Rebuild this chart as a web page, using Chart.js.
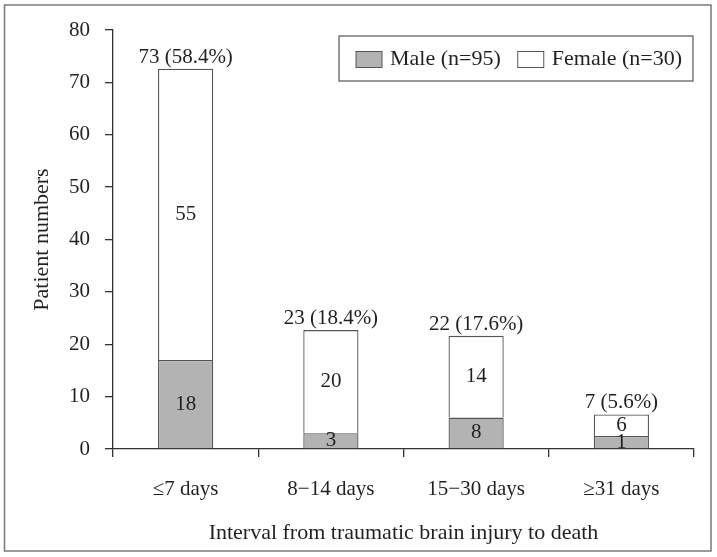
<!DOCTYPE html>
<html>
<head>
<meta charset="utf-8">
<script src="https://cdn.jsdelivr.net/npm/chart.js@4"></script>
<style>
  html, body { margin: 0; padding: 0; background: #fff; }
  #wrap { width: 717px; height: 557px; }
</style>
</head>
<body>
<div id="wrap"><canvas id="totalchart" width="717" height="557"></canvas></div>
<script>
'use strict';
// categories and values
var categories = ['\u22647 days', '8\u221214 days', '15\u221230 days', '\u226531 days'];
// drawn heights of the segments
var maleValues = [17, 3, 6, 2.5];
var femaleValues = [55.6, 19.7, 15.6, 4.1];
// numbers printed on the segments
var maleText = ['18', '3', '8', '1'];
var femaleText = ['55', '20', '14', '6'];
var totalText = ['73 (58.4%)', '23 (18.4%)', '22 (17.6%)', '7 (5.6%)'];
var yTicks = [0, 10, 20, 30, 40, 50, 60, 70, 80];

var FONT = '"Liberation Serif", "Times New Roman", serif';
var INK = '#231f20';

var frame = {
  id: 'frame',
  beforeDraw: function (chart) {
    var c = chart.ctx;
    c.save();
    c.fillStyle = '#fff';
    c.fillRect(0, 0, chart.width, chart.height);
    c.strokeStyle = '#7a7a7a';
    c.lineWidth = 1.5;
    c.strokeRect(4.5, 5, 706.5, 546);
    c.restore();
  }
};

var barText = {
  id: 'barText',
  afterDatasetsDraw: function (chart) {
    var c = chart.ctx;
    var male = chart.getDatasetMeta(0).data;
    var female = chart.getDatasetMeta(1).data;
    c.save();
    c.fillStyle = INK;
    c.font = '21px ' + FONT;
    c.textAlign = 'center';
    c.textBaseline = 'middle';
    male.forEach(function (bar, i) {
      c.fillText(maleText[i], bar.x, (bar.y + bar.base) / 2);
    });
    female.forEach(function (bar, i) {
      c.fillText(femaleText[i], bar.x, (bar.y + bar.base) / 2);
    });
    c.textBaseline = 'alphabetic';
    female.forEach(function (bar, i) {
      c.fillText(totalText[i], bar.x, bar.y - 6);
    });
    c.restore();
  }
};

var boxLegend = {
  id: 'boxLegend',
  afterDraw: function (chart) {
    var c = chart.ctx;
    var ds = chart.data.datasets;
    var x0 = 339, y0 = 36, w = 354, h = 45;
    c.save();
    c.fillStyle = '#fff';
    c.fillRect(x0, y0, w, h);
    c.strokeStyle = '#555';
    c.lineWidth = 1.2;
    c.strokeRect(x0, y0, w, h);
    c.font = '22px ' + FONT;
    c.textBaseline = 'middle';
    c.textAlign = 'left';
    var x = x0 + 17;
    var cy = y0 + h / 2 + 1;
    ds.forEach(function (d) {
      c.fillStyle = d.backgroundColor;
      c.fillRect(x, cy - 8, 26, 16);
      c.strokeStyle = '#555';
      c.lineWidth = 1;
      c.strokeRect(x, cy - 8, 26, 16);
      c.fillStyle = INK;
      c.fillText(d.label, x + 34, cy);
      x += 34 + c.measureText(d.label).width + 17;
    });
    c.restore();
  }
};

var ctx = document.getElementById('totalchart').getContext('2d');
var chart = new Chart(ctx, {
  type: 'bar',
  data: {
    labels: categories,
    datasets: [{
      label: 'Male (n=95)',
      data: maleValues,
      backgroundColor: '#b3b3b3',
      borderColor: '#555',
      borderWidth: 1.3
    }, {
      label: 'Female (n=30)',
      data: femaleValues,
      backgroundColor: '#ffffff',
      borderColor: '#555',
      borderWidth: 1.3
    }]
  },
  options: {
    responsive: false,
    animation: false,
    layout: { padding: { left: 0, right: 23, top: 30, bottom: 0 } },
    datasets: { bar: { categoryPercentage: 1, barPercentage: 0.38 } },
    plugins: {
      legend: { display: false },
      tooltip: { enabled: false }
    },
    scales: {
      x: {
        stacked: true,
        offset: true,
        grid: { offset: true, drawOnChartArea: false, drawTicks: true, tickLength: 8, color: '#333', lineWidth: 1.3 },
        border: { display: true, color: '#333', width: 1.3 },
        ticks: { color: INK, font: { family: FONT, size: 21 }, padding: 20 },
        title: { display: true, text: 'Interval from traumatic brain injury to death', color: INK, font: { family: FONT, size: 22 }, padding: { top: 11, bottom: 11 } },
        afterFit: function (s) { s.height = 108; }
      },
      y: {
        stacked: true,
        min: 0,
        max: 80,
        afterBuildTicks: function (s) { s.ticks = yTicks.map(function (v) { return { value: v }; }); },
        grid: { drawOnChartArea: false, drawTicks: true, tickLength: 8, color: '#333', lineWidth: 1.3 },
        border: { display: true, color: '#333', width: 1.3 },
        ticks: { color: INK, font: { family: FONT, size: 21 }, padding: 15 },
        title: { display: true, text: 'Patient numbers', color: INK, font: { family: FONT, size: 22 }, padding: { top: 29, bottom: 29 } },
        afterFit: function (s) { s.width = 113; }
      }
    }
  },
  plugins: [frame, barText, boxLegend]
});
</script>
</body>
</html>
